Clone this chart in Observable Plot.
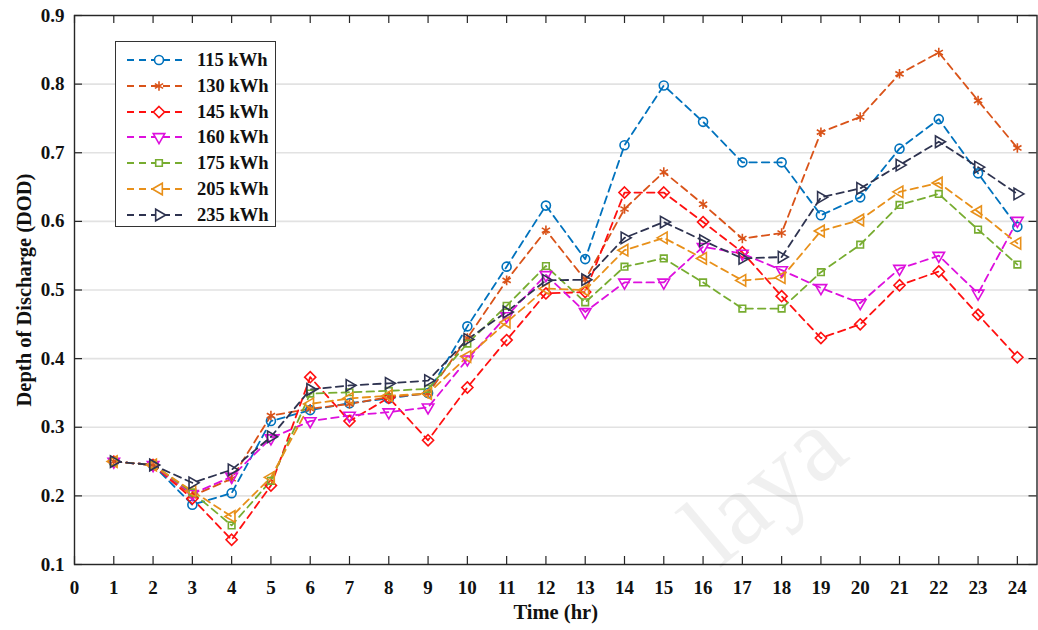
<!DOCTYPE html>
<html><head><meta charset="utf-8">
<script src="https://cdn.jsdelivr.net/npm/d3@7"></script>
<script src="https://cdn.jsdelivr.net/npm/@observablehq/plot@0.6"></script>
<style>
body{margin:0;background:#fff;}
#wrap{position:relative;width:1038px;height:630px;overflow:hidden;font-family:"Liberation Serif","Times New Roman",serif;}
#legend{position:absolute;left:115px;top:41px;width:161px;height:186px;border:1.3px solid #333;background:#fff;box-sizing:border-box;}
.li{position:absolute;left:0;height:20px;width:160px;}
.li svg{position:absolute;left:8px;top:0;}
.li span{position:absolute;left:81px;top:0;line-height:20px;font-size:18.5px;font-weight:bold;color:#111;}
#wm{position:absolute;left:730px;top:478px;font-family:"Liberation Serif",serif;font-size:104px;line-height:104px;color:rgba(0,0,0,0.06);transform:rotate(-40deg);transform-origin:left bottom;pointer-events:none;}
</style></head>
<body><div id="wrap"></div>
<script>
const hours = d3.range(1, 25);
const seriesNames = ["115 kWh","130 kWh","145 kWh","160 kWh","175 kWh","205 kWh","235 kWh"];
const s115 = [0.25,0.245,0.187,0.204,0.309,0.325,0.335,0.342,0.350,0.447,0.534,0.623,0.545,0.711,0.798,0.745,0.686,0.686,0.609,0.635,0.706,0.749,0.670,0.592];
const s130 = [0.25,0.245,0.200,0.225,0.317,0.327,0.334,0.344,0.349,0.430,0.514,0.587,0.515,0.618,0.672,0.625,0.575,0.583,0.730,0.752,0.815,0.846,0.776,0.707];
const s145 = [0.25,0.245,0.196,0.136,0.215,0.373,0.309,0.343,0.281,0.358,0.427,0.495,0.497,0.642,0.642,0.599,0.555,0.491,0.430,0.450,0.507,0.527,0.464,0.402];
const s160 = [0.25,0.245,0.203,0.228,0.284,0.309,0.317,0.322,0.329,0.399,0.462,0.522,0.468,0.511,0.511,0.563,0.553,0.529,0.503,0.481,0.531,0.550,0.495,0.601];
const s175 = [0.25,0.245,0.205,0.157,0.222,0.349,0.351,0.353,0.356,0.422,0.477,0.535,0.482,0.534,0.546,0.511,0.473,0.473,0.526,0.566,0.624,0.640,0.588,0.537];
const s205 = [0.25,0.245,0.207,0.170,0.227,0.334,0.342,0.346,0.349,0.403,0.453,0.502,0.500,0.558,0.576,0.546,0.514,0.518,0.586,0.602,0.643,0.656,0.614,0.568];
const s235 = [0.25,0.245,0.219,0.238,0.286,0.355,0.361,0.364,0.368,0.428,0.468,0.514,0.515,0.576,0.599,0.572,0.546,0.548,0.635,0.648,0.682,0.716,0.679,0.640];
const seriesValues = [s115,s130,s145,s160,s175,s205,s235];
const colors = ["#0072BD","#D95319","#FF1010","#DD10DD","#77AC30","#E8901A","#2E3350"];
const symbols = ["circle","asterisk","diamond2","triangle2","square2","triangle2","triangle2"];
const rotations = [0,0,0,180,0,-90,90];
const radii = [4.5,4.5,5,5.5,4.2,5.5,5.5];
const xTicks = d3.range(0, 25);
const yTicks = [0.1,0.2,0.3,0.4,0.5,0.6,0.7,0.8,0.9];

const W=1038,H=630,mL=74,mR=1.5,mT=15,mB=66;
const plotH=H-mT-mB, plotW=W-mL-mR;

const rows = seriesNames.map((name,i)=>hours.map((h,j)=>({hour:h,value:seriesValues[i][j],series:name})));

const marks = [Plot.gridY(yTicks,{stroke:"#e2e2e2",strokeOpacity:1,strokeWidth:1.6})];
rows.forEach((r,i)=>{
  marks.push(Plot.line(r,{x:"hour",y:"value",stroke:colors[i],strokeWidth:1.8,strokeDasharray:"7.5,5"}));
});
rows.forEach((r,i)=>{
  marks.push(Plot.dot(r,{x:"hour",y:"value",symbol:symbols[i],r:radii[i],stroke:colors[i],fill:"none",strokeWidth:1.6,rotate:rotations[i]}));
});
marks.push(
  Plot.tickX(xTicks,{x:d=>d,insetTop:plotH-8,stroke:"#262626",strokeWidth:1.2}),
  Plot.tickX(xTicks,{x:d=>d,insetBottom:plotH-8,stroke:"#262626",strokeWidth:1.2}),
  Plot.tickY(yTicks,{y:d=>d,insetRight:plotW-8,stroke:"#262626",strokeWidth:1.2}),
  Plot.tickY(yTicks,{y:d=>d,insetLeft:plotW-8,stroke:"#262626",strokeWidth:1.2}),
  Plot.frame({stroke:"#262626",strokeWidth:1.4}),
  Plot.axisX(xTicks,{tickSize:0,tickPadding:16,fontSize:19,fontWeight:"bold",tickFormat:"d",label:null}),
  Plot.axisY(yTicks,{tickSize:0,tickPadding:10,fontSize:19,fontWeight:"bold",tickFormat:".1f",label:null}),
  Plot.text(["Time (hr)"],{frameAnchor:"bottom",textAnchor:"middle",lineAnchor:"middle",dy:48,fontSize:20.5,fontWeight:"bold",fill:"#111"}),
  Plot.text(["Depth of Discharge (DOD)"],{frameAnchor:"left",textAnchor:"middle",lineAnchor:"middle",dx:-50,rotate:-90,fontSize:20.5,fontWeight:"bold",fill:"#111"})
);

const chart = Plot.plot({
  width:W,height:H,marginLeft:mL,marginRight:mR,marginTop:mT,marginBottom:mB,
  x:{domain:[0,24.5]}, y:{domain:[0.1,0.9]},
  style:{fontFamily:'"Liberation Serif","Times New Roman",serif',fontWeight:"bold",background:"#fff",color:"#111"},
  marks
});
const wrap = document.getElementById("wrap");
wrap.appendChild(chart);

// legend
const leg = document.createElement("div"); leg.id="legend"; wrap.appendChild(leg);
const d3sym = {circle:d3.symbolCircle,asterisk:d3.symbolAsterisk,diamond2:d3.symbolDiamond2,triangle2:d3.symbolTriangle2,square2:d3.symbolSquare2};
seriesNames.forEach((name,i)=>{
  const it = document.createElement("div"); it.className="li"; it.style.top=(8+i*25.8)+"px";
  const svg = d3.create("svg").attr("width",62).attr("height",20);
  svg.append("line").attr("x1",3).attr("x2",59).attr("y1",10).attr("y2",10)
    .attr("stroke",colors[i]).attr("stroke-width",1.8).attr("stroke-dasharray","7,5");
  svg.append("path").attr("d",d3.symbol(d3sym[symbols[i]],Math.PI*radii[i]*radii[i])())
    .attr("transform",`translate(35,10) rotate(${rotations[i]})`)
    .attr("fill","#fff").attr("stroke",colors[i]).attr("stroke-width",1.6);
  it.appendChild(svg.node());
  const sp=document.createElement("span"); sp.textContent=name; it.appendChild(sp);
  leg.appendChild(it);
});
const wm=document.createElement("div"); wm.id="wm"; wm.textContent="laya"; wrap.appendChild(wm);
</script></body></html>
